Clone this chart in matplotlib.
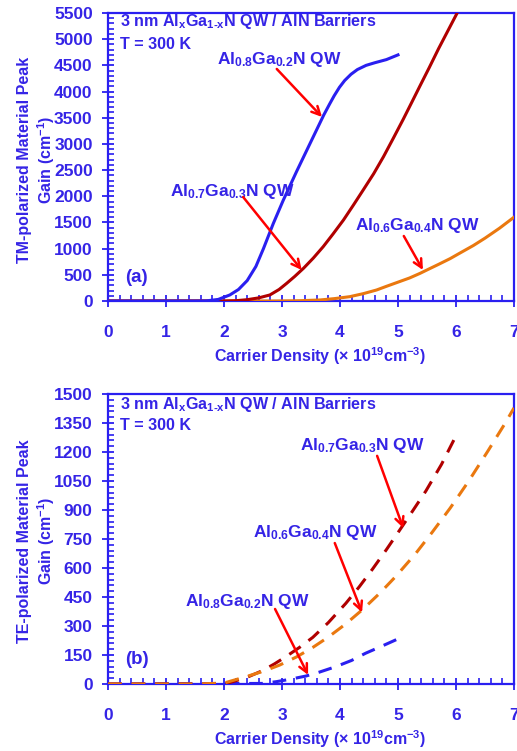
import matplotlib
matplotlib.use("Agg")
import matplotlib.pyplot as plt
from matplotlib.ticker import MultipleLocator

plt.rcParams["font.family"] = ["Liberation Sans", "DejaVu Sans"]
plt.rcParams["font.weight"] = "bold"
plt.rcParams["mathtext.fontset"] = "custom"
plt.rcParams["mathtext.rm"] = "Liberation Sans:bold"
plt.rcParams["mathtext.bf"] = "Liberation Sans:bold"
plt.rcParams["mathtext.it"] = "Liberation Sans:bold"
plt.rcParams["mathtext.default"] = "bf"

BLUE_TXT = "#3524E6"
BLUE = "#2A1FF0"
DARKRED = "#B00000"
ORANGE = "#EA780F"
ARROW = "#FF0000"

# ---- (a) TM-polarized gain ----
tm_x_08 = [0, 1.5, 1.7, 1.9, 2.1, 2.25, 2.4, 2.55, 2.68, 2.85, 3.02, 3.25, 3.48, 3.72,
           3.82, 3.90, 3.99, 4.08, 4.19, 4.30, 4.45, 4.6, 4.8, 5.0]
tm_g_08 = [0, 0, 3, 30, 115, 220, 390, 660, 1000, 1480, 1920, 2470, 3000, 3552,
           3760, 3920, 4080, 4210, 4330, 4420, 4500, 4550, 4610, 4700]

tm_x_07 = [0, 2.0, 2.2, 2.4, 2.6, 2.79, 2.95, 3.08, 3.22, 3.37, 3.54, 3.71, 3.88, 4.06,
           4.23, 4.40, 4.58, 4.75, 4.92, 5.09, 5.24, 5.38, 5.54, 5.70, 5.86, 6.02]
tm_g_07 = [0, 0, 5, 25, 60, 115, 220, 337, 470, 624, 820, 1037, 1280, 1547,
           1830, 2120, 2430, 2756, 3110, 3470, 3800, 4110, 4460, 4820, 5160, 5500]

tm_x_06 = [0, 2.9, 3.3, 3.66, 3.9, 4.17, 4.4, 4.63, 4.8, 5.0, 5.2, 5.38, 5.55, 5.7,
           5.9, 6.07, 6.3, 6.5, 6.75, 7.0]
tm_g_06 = [0, 0, 5, 20, 45, 83, 140, 210, 280, 360, 440, 528, 620, 700,
           810, 917, 1060, 1200, 1390, 1600]

# ---- (b) TE-polarized gain ----
te_x_08 = [0, 2.67, 2.9, 3.13, 3.41, 3.65, 3.93, 4.2, 4.44, 4.73, 5.02]
te_g_08 = [0, 3, 12, 24, 41, 62, 90, 122, 159, 197, 236]

te_x_07 = [0, 2.0, 2.15, 2.4, 2.67, 2.87, 3.07, 3.3, 3.53, 3.8, 4.10, 4.33, 4.56, 4.8,
           5.02, 5.25, 5.48, 5.75, 5.99]
te_g_07 = [0, 0, 12, 35, 70, 104, 142, 189, 241, 318, 417, 502, 594, 695,
           792, 894, 998, 1136, 1278]

te_x_06 = [0, 1.5, 2.0, 2.38, 2.7, 2.96, 3.25, 3.53, 3.8, 4.10, 4.4, 4.7, 4.96, 5.3,
           5.59, 5.9, 6.22, 6.55, 6.85, 7.0]
te_g_06 = [0, 0, 5, 38, 68, 98, 140, 189, 243, 311, 388, 474, 556, 673,
           785, 910, 1050, 1205, 1350, 1428]

lab_08 = "Al$_{0.8}$Ga$_{0.2}$N QW"
lab_07 = "Al$_{0.7}$Ga$_{0.3}$N QW"
lab_06 = "Al$_{0.6}$Ga$_{0.4}$N QW"
title = "3 nm Al$_x$Ga$_{1\u2010x}$N QW / AlN Barriers"

fig = plt.figure(figsize=(5.17, 7.51), dpi=100)
ax1 = fig.add_axes([0.2089, 0.5992, 0.7853, 0.3835])
ax2 = fig.add_axes([0.2089, 0.0892, 0.7853, 0.3862])


def style(ax, ymax, ymajor, yminor):
    ax.set_xlim(0, 7)
    ax.set_ylim(0, ymax)
    ax.xaxis.set_major_locator(MultipleLocator(1))
    ax.xaxis.set_minor_locator(MultipleLocator(0.2))
    ax.yaxis.set_major_locator(MultipleLocator(ymajor))
    ax.yaxis.set_minor_locator(MultipleLocator(yminor))
    for s in ax.spines.values():
        s.set_color(BLUE)
        s.set_linewidth(1.6)
    ax.tick_params(which="major", direction="inout", length=8, width=1.3, color=BLUE,
                   labelcolor=BLUE_TXT, labelsize=12.5)
    ax.tick_params(which="minor", direction="in", length=4, width=1.2, color=BLUE)
    ax.tick_params(axis="x", which="major", pad=13)
    ax.tick_params(axis="y", which="major", pad=7)
    for t in ax.get_xticklabels() + ax.get_yticklabels():
        t.set_fontweight("bold")


def arrow(ax, tail, tip):
    ax.annotate("", xy=tip, xytext=tail,
                arrowprops=dict(arrowstyle="->", color=ARROW, lw=1.8,
                                mutation_scale=15, shrinkA=0, shrinkB=0))


def label(ax, x, y, s):
    ax.text(x, y, s, color=BLUE_TXT, fontsize=12.5, fontweight="bold",
            ha="center", va="center")


def header(ax, y1, y2):
    ax.text(0.03, y1, title, transform=ax.transAxes,
            color=BLUE_TXT, fontsize=11.6, fontweight="bold", ha="left", va="center")
    ax.text(0.03, y2, "T = 300 K", transform=ax.transAxes,
            color=BLUE_TXT, fontsize=11.6, fontweight="bold", ha="left", va="center")


# (a)
ax1.plot(tm_x_06, tm_g_06, color=ORANGE, lw=2.2, zorder=3)
ax1.plot(tm_x_07, tm_g_07, color=DARKRED, lw=2.2, zorder=3)
ax1.plot(tm_x_08, tm_g_08, color=BLUE, lw=2.2, zorder=3)
style(ax1, 5500, 500, 100)

label(ax1, 2.95, 4603, lab_08)
arrow(ax1, (2.91, 4431), (3.69, 3514))
label(ax1, 2.14, 2082, lab_07)
arrow(ax1, (2.33, 1986), (3.34, 592))
label(ax1, 5.33, 1451, lab_06)
arrow(ax1, (5.10, 1241), (5.43, 592))

header(ax1, 0.969, 0.892)
ax1.text(0.071, 0.08, "(a)", transform=ax1.transAxes,
         color=BLUE_TXT, fontsize=13.5, fontweight="bold", ha="center", va="center")

# (b)
ax2.plot(te_x_08, te_g_08, color=BLUE, lw=2.2, dashes=(4.5, 3.2), zorder=3)
ax2.plot(te_x_07, te_g_07, color=DARKRED, lw=2.2, dashes=(4.5, 3.2), zorder=3)
ax2.plot(te_x_06, te_g_06, color=ORANGE, lw=2.2, dashes=(4.5, 3.2), zorder=3)
style(ax2, 1500, 150, 30)

label(ax2, 4.38, 1236, lab_07)
arrow(ax2, (4.64, 1180), (5.09, 807))
label(ax2, 3.57, 781, lab_06)
arrow(ax2, (3.91, 729), (4.38, 370))
label(ax2, 2.41, 429, lab_08)
arrow(ax2, (2.88, 388), (3.45, 47))

header(ax2, 0.962, 0.890)
ax2.text(0.071, 0.083, "(b)", transform=ax2.transAxes,
         color=BLUE_TXT, fontsize=13.5, fontweight="bold", ha="center", va="center")

# axis titles
xlab = "Carrier Density (\u00d7 10$^{19}$cm$^{-3}$)"
fig.text(320 / 517, 1 - 356 / 751, xlab, color=BLUE_TXT, fontsize=11.5,
         fontweight="bold", ha="center", va="center")
fig.text(320 / 517, 1 - 739 / 751, xlab, color=BLUE_TXT, fontsize=11.5,
         fontweight="bold", ha="center", va="center")
fig.text(37 / 517, 1 - 160 / 751, "TM-polarized Material Peak\nGain (cm$^{-1}$)",
         color=BLUE_TXT, fontsize=11.5, fontweight="bold", rotation=90,
         ha="center", va="center", multialignment="center", linespacing=1.2)
fig.text(37 / 517, 1 - 541 / 751, "TE-polarized Material Peak\nGain (cm$^{-1}$)",
         color=BLUE_TXT, fontsize=11.5, fontweight="bold", rotation=90,
         ha="center", va="center", multialignment="center", linespacing=1.2)

fig.savefig("out.png", dpi=100)
